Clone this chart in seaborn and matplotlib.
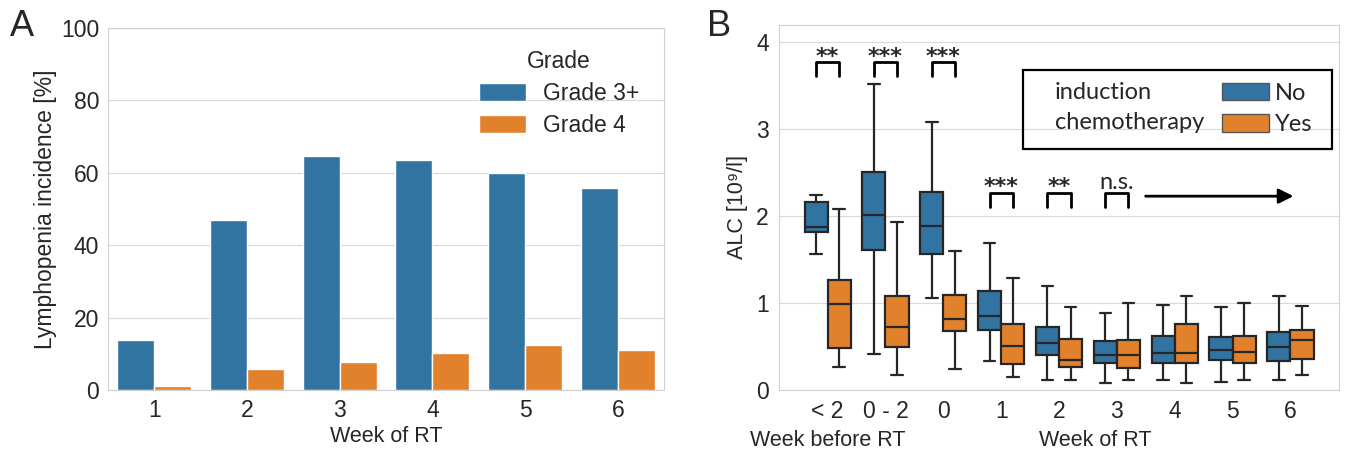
import matplotlib
matplotlib.use('Agg')
import matplotlib.pyplot as plt
from matplotlib.patches import Rectangle, Patch
import numpy as np
import pandas as pd
import seaborn as sns

# Panel A data: lymphopenia incidence per week of RT
weeks_a = ['1', '2', '3', '4', '5', '6']
grade3_plus = [13.8, 47.0, 64.5, 63.4, 59.9, 55.7]
grade4 = [1.1, 5.8, 7.8, 10.1, 12.3, 11.1]

# Panel B data: ALC boxes as [whisker low, q1, median, q3, whisker high]
weeks_b = ['< 2', '0 - 2', '0', '1', '2', '3', '4', '5', '6']
alc_no = [
    [1.57, 1.82, 1.88, 2.16, 2.24],
    [0.41, 1.61, 2.01, 2.51, 3.52],
    [1.06, 1.57, 1.89, 2.28, 3.08],
    [0.33, 0.69, 0.85, 1.14, 1.69],
    [0.11, 0.40, 0.54, 0.72, 1.20],
    [0.08, 0.31, 0.40, 0.56, 0.89],
    [0.12, 0.31, 0.43, 0.62, 0.98],
    [0.09, 0.34, 0.46, 0.61, 0.96],
    [0.11, 0.33, 0.50, 0.67, 1.08],
]
alc_yes = [
    [0.27, 0.48, 0.99, 1.26, 2.08],
    [0.17, 0.49, 0.72, 1.08, 1.93],
    [0.24, 0.68, 0.82, 1.09, 1.60],
    [0.15, 0.30, 0.51, 0.76, 1.29],
    [0.11, 0.26, 0.35, 0.59, 0.95],
    [0.11, 0.25, 0.40, 0.58, 1.00],
    [0.08, 0.31, 0.43, 0.76, 1.08],
    [0.11, 0.31, 0.44, 0.62, 1.00],
    [0.17, 0.36, 0.57, 0.69, 0.97],
]
sig_labels = ['**', '***', '***', '***', '**', 'n.s.']

sns.set_style('whitegrid')
plt.rcParams['font.family'] = ['Liberation Sans', 'DejaVu Sans']
plt.rcParams['axes.edgecolor'] = '#d0d0d0'
plt.rcParams['grid.color'] = '#d9d9d9'

calibri_like = ['Lato', 'DejaVu Sans']

fig = plt.figure(figsize=(13.49, 4.58), dpi=100)
ax1 = fig.add_axes([0.0801, 0.1485, 0.4122, 0.7904])
ax2 = fig.add_axes([0.5775, 0.1485, 0.4151, 0.797])

# ---- Panel A ----
df_a = pd.DataFrame({
    'week': weeks_a * 2,
    'value': grade3_plus + grade4,
    'Grade': ['Grade 3+'] * len(weeks_a) + ['Grade 4'] * len(weeks_a),
})
sns.barplot(data=df_a, x='week', y='value', hue='Grade', ax=ax1,
            palette=['#1f77b4', '#ff7f0e'])
ax1.set_ylim(0, 100)
ax1.set_yticks([0, 20, 40, 60, 80, 100])
ax1.xaxis.grid(False)
ax1.tick_params(labelsize=16.5, pad=3)
ax1.set_xlabel('Week of RT', fontsize=15.5, labelpad=3)
ax1.set_ylabel('Lymphopenia incidence [%]', fontsize=16.5, labelpad=3)
ax1.legend(title='Grade', loc='upper left', bbox_to_anchor=(0.65, 0.965),
           frameon=False, fontsize=16.5, title_fontsize=16.5,
           handlelength=2.05, handleheight=0.85, labelspacing=0.4,
           handletextpad=0.75, borderaxespad=0)
fig.text(0.007, 0.922, 'A', fontsize=26)

# ---- Panel B ----
rows = []
for i, w in enumerate(weeks_b):
    for v in alc_no[i]:
        rows.append((w, v, 'No'))
    for v in alc_yes[i]:
        rows.append((w, v, 'Yes'))
df_b = pd.DataFrame(rows, columns=['week', 'alc', 'chemo'])
sns.boxplot(data=df_b, x='week', y='alc', hue='chemo', order=weeks_b,
            hue_order=['No', 'Yes'], whis=(0, 100), ax=ax2,
            palette=['#1f77b4', '#ff7f0e'], linecolor='#262626',
            linewidth=1.6, legend=False)
ax2.set_ylim(0, 4.2)
ax2.set_yticks([0, 1, 2, 3, 4])
ax2.xaxis.grid(False)
ax2.tick_params(labelsize=16.5, pad=4)
ax2.set_xlabel('')
ax2.set_ylabel('ALC [10⁹/l]', fontsize=15.5, labelpad=6)

# significance brackets
for i, lab in enumerate(sig_labels):
    top, leg = (3.77, 3.61) if i < 3 else (2.27, 2.10)
    ax2.plot([i - 0.2, i - 0.2, i + 0.2, i + 0.2], [leg, top, top, leg],
             color='black', lw=2)
    if lab == 'n.s.':
        ax2.text(i, top + 0.12, lab, ha='center', va='center', fontsize=17,
                 family=calibri_like)
    else:
        ax2.text(i, top + 0.06, lab, ha='center', va='center', fontsize=16,
                 fontweight='bold', family='DejaVu Sans')
ax2.annotate('', xy=(8.1, 2.23), xytext=(5.45, 2.23),
             arrowprops=dict(arrowstyle='-|>', lw=2, color='black',
                             mutation_scale=22))

# legend with label on the left
ax2.add_patch(Rectangle((0.4357, 0.660), 0.5518, 0.2164, transform=ax2.transAxes,
                        fill=False, edgecolor='black', lw=1.6, zorder=5))
ax2.text(0.493, 0.8137, 'induction', transform=ax2.transAxes, fontsize=17,
         va='center', family=calibri_like)
ax2.text(0.493, 0.7315, 'chemotherapy', transform=ax2.transAxes, fontsize=17,
         va='center', family=calibri_like)
handles = [Patch(facecolor='#3274a1', edgecolor='#555555', label='No'),
           Patch(facecolor='#e1812c', edgecolor='#555555', label='Yes')]
ax2.legend(handles=handles, loc='upper left', bbox_to_anchor=(0.791, 0.842),
           frameon=False, borderaxespad=0, borderpad=0,
           prop={'family': calibri_like, 'size': 17},
           handlelength=2.0, handleheight=0.75, labelspacing=0.45,
           handletextpad=0.25)

fig.text(750 / 1349, 1 - 441 / 458, 'Week before RT', fontsize=15.5,
         va='center', ha='left')
fig.text(1095 / 1349, 1 - 441 / 458, 'Week of RT', fontsize=15.5,
         va='center', ha='center')
fig.text(0.524, 0.922, 'B', fontsize=26)

fig.savefig('out.png', dpi=100)
